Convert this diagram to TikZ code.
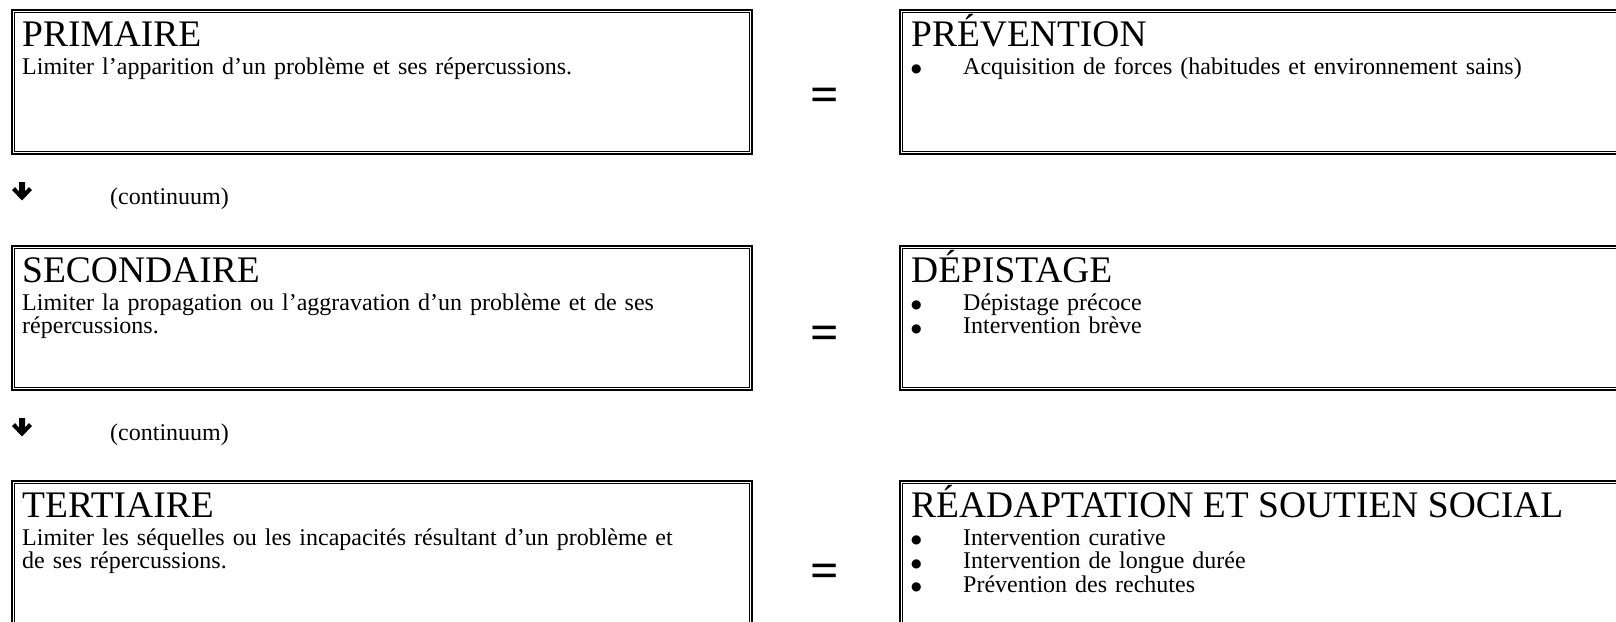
\documentclass[tikz,border=0pt]{standalone}
\usepackage{fontspec}
\setmainfont{Liberation Serif}
\newfontfamily\symfont{DejaVu Sans}
\usetikzlibrary{positioning}

\newcommand{\bul}{\makebox[52pt][l]{\raisebox{1.5pt}{\symfont\fontsize{12}{12}\selectfont ●}}}

\begin{document}
\begin{tikzpicture}[x=1pt, y=-1pt,
    box/.style={draw, line width=2pt, anchor=north west, inner sep=0pt, minimum height=144pt},
    head/.style={anchor=base west, inner sep=0pt, font=\fontsize{37.5}{37.5}\selectfont},
    txt/.style={anchor=base west, inner sep=0pt, text width=#1, align=left, font=\fontsize{24}{23.7}\selectfont},
    eq/.style={inner sep=0pt, font=\fontsize{50}{50}\selectfont\bfseries},
    cont/.style={anchor=west, inner sep=0pt, font=\fontsize{24}{24}\selectfont}]
  \clip (0,0) rectangle (1616,621); % page frame
  % levels (left column)
  \node[box, minimum width=740pt] (prim) at (11,9) {};
  \node[box, minimum width=740pt] (sec) at (11,245) {};
  \node[box, minimum width=740pt] (tert) at (11,480) {};
  % actions (right column, runs past the edge)
  \node[box, minimum width=730pt] (prev) at (899,9) {};
  \node[box, minimum width=730pt] (dep) at (899,245) {};
  \node[box, minimum width=730pt] (read) at (899,480) {};
  % thin inner frame
  \foreach \n in {prim,sec,tert,prev,dep,read}
    \draw[line width=0.8pt] ([shift={(3.5pt,-3.5pt)}]\n.north west) rectangle ([shift={(-3.5pt,3.5pt)}]\n.south east);

  % titles
  \node[head] (primh) at ([shift={(11pt,-37pt)}]prim.north west) {PRIMAIRE};
  \node[head] (sech) at ([shift={(11pt,-37pt)}]sec.north west) {SECONDAIRE};
  \node[head] (terth) at ([shift={(11pt,-37pt)}]tert.north west) {TERTIAIRE};
  \node[head] (prevh) at ([shift={(12pt,-37pt)}]prev.north west) {PRÉVENTION};
  \node[head] (deph) at ([shift={(12pt,-37pt)}]dep.north west) {DÉPISTAGE};
  \node[head] (readh) at ([shift={(12pt,-37pt)}]read.north west) {RÉADAPTATION ET SOUTIEN SOCIAL};

  % texts
  \node[txt=720pt] (primt) at ([shift={(11pt,-65pt)}]prim.north west) {Limiter l’apparition d’un problème et ses répercussions.};
  \node[txt=720pt] (sect) at ([shift={(11pt,-65pt)}]sec.north west) {Limiter la propagation ou l’aggravation d’un problème et de ses\\répercussions.};
  \node[txt=720pt] (tertt) at ([shift={(11pt,-65pt)}]tert.north west) {Limiter les séquelles ou les incapacités résultant d’un problème et\\de ses répercussions.};
  \node[txt=700pt] (prevt) at ([shift={(12pt,-65pt)}]prev.north west) {\bul Acquisition de forces (habitudes et environnement sains)};
  \node[txt=700pt] (dept) at ([shift={(12pt,-65pt)}]dep.north west) {\bul Dépistage précoce\\
    \bul Intervention brève};
  \node[txt=700pt] (readt) at ([shift={(12pt,-65pt)}]read.north west) {\bul Intervention curative\\
    \bul Intervention de longue durée\\
    \bul Prévention des rechutes};

  % equal signs
  \node[eq] (eq1) at (825,100) {=};
  \node[eq] (eq2) at (825,338) {=};
  \node[eq] (eq3) at (825,576) {=};

  % continuum arrows
  \node[cont] (cont1) at (110,199) {(continuum)};
  \node[cont] (cont2) at (110,435) {(continuum)};
  \coordinate (ar1) at (22,191);
  \coordinate (ar2) at (22,427);
  \foreach \a in {ar1,ar2}
    \fill[shift={(\a)}] (-3,-9) -- (3,-9) -- (3,0.5) -- (7,-4) -- (10,-1) -- (0,9.5)
      -- (-10,-1) -- (-7,-4) -- (-3,0.5) -- cycle;
\end{tikzpicture}
\end{document}
